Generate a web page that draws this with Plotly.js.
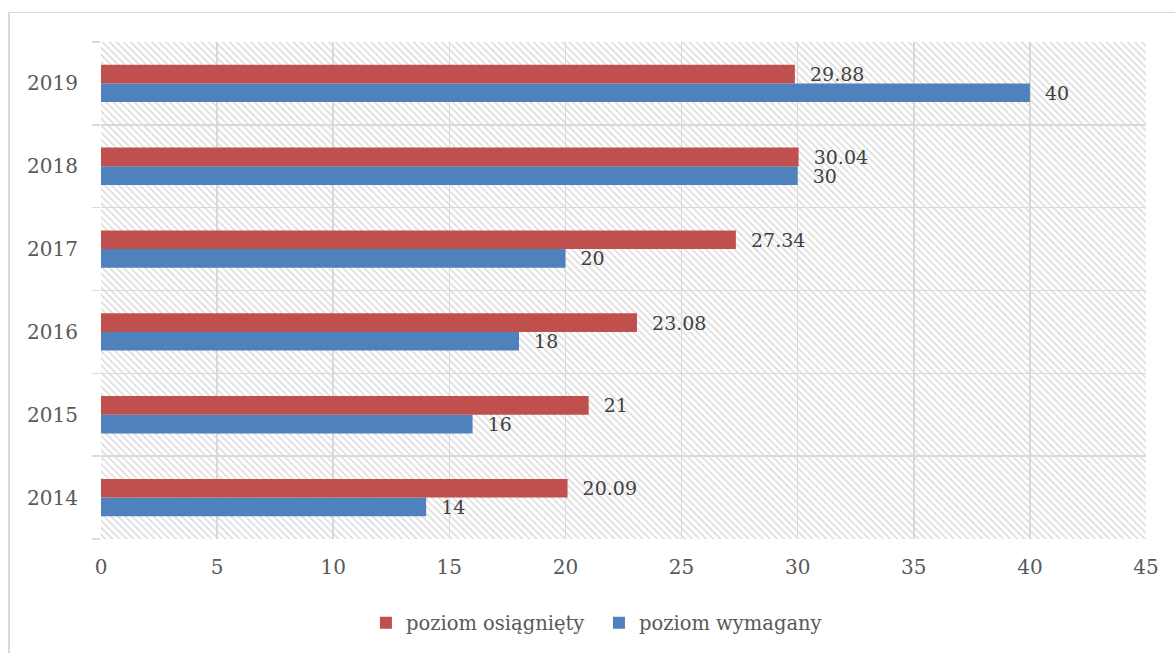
<!DOCTYPE html>
<html>
<head>
<meta charset="utf-8">
<script src="https://cdn.plot.ly/plotly-3.0.1.min.js"></script>
<style>
  html, body { margin: 0; padding: 0; background: #fff; }
  #wrap { position: relative; width: 1175px; height: 653px; overflow: hidden; }
  #chart { position: absolute; left: 0; top: 0; width: 1175px; height: 653px; }
  #frame { position: absolute; left: 8px; top: 12px; width: 2000px; height: 2000px;
           border-left: 2px solid #d9d9d9; border-top: 1.5px solid #d9d9d9; pointer-events: none; }
</style>
</head>
<body>
<div id="wrap">
  <div id="chart"></div>
  <div id="frame"></div>
</div>
<script>
const years = ['2014', '2015', '2016', '2017', '2018', '2019'];
const achieved = [20.09, 21, 23.08, 27.34, 30.04, 29.88];   // poziom osiągnięty
const required = [14, 16, 18, 20, 30, 40];                  // poziom wymagany
const seriesNames = ['poziom osiągnięty', 'poziom wymagany'];
const xTicks = [0, 5, 10, 15, 20, 25, 30, 35, 40, 45];

const FONT = "'DejaVu Serif', 'Liberation Serif', serif";
const GRID = '#d9d9d9';

const hatchSvg =
  '<svg xmlns="http://www.w3.org/2000/svg" width="1045" height="498" viewBox="0 0 1045 498">' +
  '<defs><pattern id="h" patternUnits="userSpaceOnUse" width="5" height="5" patternTransform="rotate(-45)">' +
  '<line x1="1" y1="0" x2="1" y2="5" stroke="#d8d8d8" stroke-width="1.5"/></pattern></defs>' +
  '<rect width="1045" height="498" fill="#ffffff"/>' +
  '<rect width="1045" height="498" fill="url(#h)"/></svg>';
const hatchUri = 'data:image/svg+xml;base64,' + btoa(hatchSvg);

const labelPrefix = '\u00a0\u00a0';

function barTrace(name, values, color, rank) {
  return {
    type: 'bar', orientation: 'h', name: name,
    y: years, x: values,
    marker: { color: color },
    text: values.map(v => labelPrefix + v),
    texttemplate: '%{text}',
    textposition: 'outside',
    constraintext: 'none',
    textfont: { family: FONT, size: 19, color: '#404040' },
    cliponaxis: false,
    legendrank: rank,
    hoverinfo: 'x+y'
  };
}

const traces = [
  barTrace(seriesNames[1], required, '#4f81bd', 2),
  barTrace(seriesNames[0], achieved, '#c0504d', 1)
];

const layout = {
  width: 1175, height: 653,
  margin: { l: 101, r: 29, t: 42, b: 113, pad: 0 },
  paper_bgcolor: '#ffffff',
  plot_bgcolor: 'rgba(0,0,0,0)',
  barmode: 'group',
  bargap: 0.55,
  bargroupgap: 0,
  font: { family: FONT, size: 20, color: '#595959' },
  showlegend: true,
  legend: {
    orientation: 'h',
    x: 0.4765, xanchor: 'center',
    y: -0.167, yanchor: 'middle',
    font: { family: FONT, size: 19.5, color: '#595959' },
    entrywidth: 188, entrywidthmode: 'pixels',
    itemwidth: 30,
    tracegroupgap: 0
  },
  xaxis: {
    range: [0, 45],
    tickvals: xTicks,
    ticktext: xTicks.map(String),
    showgrid: true, gridcolor: GRID, gridwidth: 1.5,
    zeroline: false,
    showline: false,
    ticks: '',
    ticklabelstandoff: 14,
    tickfont: { family: FONT, size: 20, color: '#595959' },
    fixedrange: true
  },
  yaxis: {
    type: 'category',
    categoryorder: 'array',
    categoryarray: years,
    tickson: 'boundaries',
    ticks: 'outside', ticklen: 8, tickcolor: GRID, tickwidth: 1.5,
    showgrid: true, gridcolor: GRID, gridwidth: 1.5,
    showline: false,
    zeroline: false,
    ticklabelstandoff: 22,
    tickfont: { family: FONT, size: 20, color: '#595959' },
    fixedrange: true
  },
  images: [{
    source: hatchUri,
    xref: 'paper', yref: 'paper',
    x: 0, y: 1, sizex: 1, sizey: 1,
    xanchor: 'left', yanchor: 'top',
    sizing: 'stretch', layer: 'below'
  }]
};

Plotly.newPlot('chart', traces, layout, { displayModeBar: false, staticPlot: true });
</script>
</body>
</html>
